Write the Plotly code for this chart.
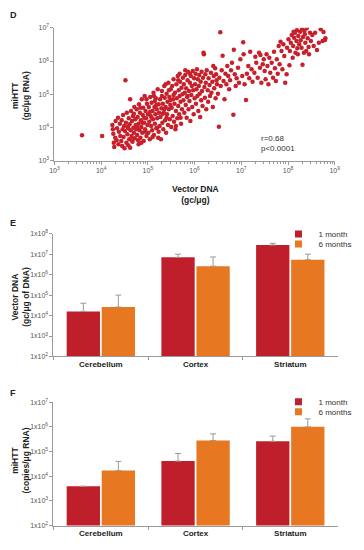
import plotly.graph_objects as go

# ---------------- Panel D data (log10 values) ----------------
vector_dna_log = [
    3.59, 4.02,
    4.24, 4.25, 4.26, 4.27, 4.28, 4.30, 4.31, 4.33, 4.34, 4.36, 4.37, 4.38, 4.40, 4.41, 4.43, 4.44, 4.45, 4.46, 4.47, 4.48, 4.49,
    4.50, 4.51, 4.52, 4.53, 4.54, 4.55, 4.56, 4.57, 4.58, 4.59, 4.60, 4.61, 4.62, 4.63, 4.64, 4.65, 4.66, 4.67, 4.68, 4.69, 4.70, 4.71, 4.72, 4.73, 4.74, 4.75, 4.62, 4.70, 4.58, 4.66,
    4.76, 4.77, 4.78, 4.79, 4.80, 4.81, 4.82, 4.83, 4.84, 4.85, 4.86, 4.87, 4.88, 4.89, 4.90, 4.91, 4.92, 4.93, 4.94, 4.95, 4.96, 4.97, 4.98, 4.99, 5.00, 4.80, 4.88, 4.92, 4.95, 4.84, 4.97, 4.78, 4.86,
    5.01, 5.02, 5.03, 5.04, 5.05, 5.06, 5.07, 5.08, 5.09, 5.10, 5.11, 5.12, 5.13, 5.14, 5.15, 5.16, 5.17, 5.18, 5.19, 5.20, 5.21, 5.22, 5.23, 5.24, 5.25, 5.05, 5.10, 5.15, 5.20, 5.08, 5.18, 5.13, 5.23,
    5.26, 5.27, 5.28, 5.29, 5.30, 5.31, 5.32, 5.33, 5.34, 5.35, 5.36, 5.37, 5.38, 5.39, 5.40, 5.41, 5.42, 5.43, 5.44, 5.45, 5.46, 5.47, 5.48, 5.49, 5.50, 5.30, 5.35, 5.40, 5.45, 5.38, 5.48, 5.32,
    5.51, 5.52, 5.53, 5.54, 5.55, 5.56, 5.57, 5.58, 5.59, 5.60, 5.61, 5.62, 5.63, 5.64, 5.65, 5.66, 5.67, 5.68, 5.69, 5.70, 5.71, 5.72, 5.73, 5.74, 5.75, 5.55, 5.65, 5.70, 5.60, 5.68,
    5.76, 5.77, 5.78, 5.79, 5.80, 5.81, 5.82, 5.83, 5.84, 5.85, 5.86, 5.87, 5.88, 5.89, 5.90, 5.91, 5.92, 5.93, 5.94, 5.95, 5.96, 5.97, 5.98, 5.99, 6.00, 5.80, 5.90, 5.85,
    6.01, 6.02, 6.03, 6.04, 6.05, 6.06, 6.07, 6.08, 6.09, 6.10, 6.11, 6.12, 6.13, 6.14, 6.15, 6.16, 6.17, 6.18, 6.19, 6.20, 6.21, 6.22, 6.23, 6.24, 6.25,
    6.26, 6.28, 6.29, 6.30, 6.32, 6.33, 6.35, 6.36, 6.38, 6.39, 6.41, 6.42, 6.44, 6.45, 6.47, 6.48, 6.50, 6.40, 6.46,
    6.52, 6.55, 6.53, 6.56, 6.58, 6.60, 6.62, 6.64, 6.66, 6.68, 6.70, 6.72, 6.74,
    6.76, 6.78, 6.80, 6.83, 6.84, 6.86, 6.88, 6.90, 6.93, 6.95, 6.98,
    7.02, 7.04, 7.05, 7.07, 7.10, 7.12, 7.15, 7.17, 7.19, 7.22, 7.24,
    7.28, 7.30, 7.32, 7.35, 7.38, 7.40, 7.41, 7.43, 7.46, 7.48, 7.50,
    7.52, 7.54, 7.56, 7.58, 7.60, 7.62, 7.65, 7.68, 7.70, 7.72, 7.74,
    7.76, 7.78, 7.80, 7.82, 7.84, 7.86, 7.88, 7.90, 7.92, 7.94, 7.97, 7.98,
    8.01, 8.03, 8.04, 8.06, 8.08, 8.10, 8.11, 8.13, 8.15, 8.16, 8.18, 8.19, 8.21, 8.22, 8.24, 8.12, 8.20,
    8.26, 8.27, 8.29, 8.30, 8.31, 8.32, 8.34, 8.36, 8.37, 8.39, 8.40, 8.42, 8.44, 8.45, 8.47, 8.49, 8.35,
    8.52, 8.55, 8.58, 8.62, 8.66, 8.70, 8.74, 8.76, 8.79, 8.80,
]
mihtt_log = [
    3.77, 3.75,
    4.08, 3.95, 3.82, 3.55, 3.42, 3.70, 4.20, 3.62, 3.98, 4.30, 3.50, 3.88, 4.12, 3.75, 3.60, 4.22, 3.45, 3.95, 4.38, 3.72, 4.05,
    3.38, 3.90, 5.42, 4.15, 3.55, 4.45, 3.80, 4.02, 3.47, 4.28, 3.65, 4.10, 4.85, 3.92, 4.50, 3.75, 4.20, 3.58, 4.35, 4.00, 3.85, 4.62, 3.68, 4.25, 4.08, 3.95, 3.40, 4.42, 3.98, 3.62,
    4.55, 3.78, 4.32, 3.62, 4.12, 4.70, 3.92, 4.45, 3.70, 4.22, 4.02, 4.85, 3.85, 4.38, 4.60, 3.60, 4.15, 4.95, 3.95, 4.50, 4.28, 3.75, 4.72, 4.08, 4.40, 3.50, 4.15, 4.30, 3.88, 4.60, 4.85, 4.00, 3.55,
    3.85, 4.62, 4.18, 3.65, 4.92, 4.35, 4.05, 4.75, 3.92, 4.50, 4.25, 5.05, 3.78, 4.62, 4.12, 4.40, 4.88, 3.98, 4.55, 4.28, 5.15, 3.70, 4.70, 4.45, 4.05, 4.48, 3.72, 4.80, 4.00, 4.30, 4.68, 4.95, 3.88,
    4.85, 4.32, 3.65, 4.58, 5.10, 4.15, 4.72, 3.95, 4.45, 5.25, 4.90, 4.22, 4.62, 3.85, 5.02, 4.40, 4.78, 4.08, 5.35, 4.55, 4.92, 4.25, 4.68, 5.15, 4.02, 4.95, 4.55, 4.30, 5.12, 5.30, 4.82, 4.42,
    4.60, 5.25, 4.35, 4.85, 5.45, 4.18, 4.72, 5.05, 3.95, 4.50, 5.30, 4.88, 4.28, 5.55, 4.65, 5.12, 4.40, 4.95, 5.38, 4.78, 4.12, 5.20, 4.55, 5.00, 5.50, 4.98, 5.42, 4.30, 4.05, 5.62,
    4.82, 5.30, 4.45, 5.05, 5.58, 4.68, 5.18, 4.30, 4.92, 5.42, 5.68, 4.55, 5.10, 4.80, 5.35, 4.20, 5.55, 4.98, 5.25, 4.62, 5.70, 5.12, 4.40, 5.48, 4.88, 5.72, 5.62, 4.95,
    5.30, 5.62, 4.72, 5.15, 5.75, 4.95, 5.45, 4.50, 5.25, 5.58, 5.02, 4.32, 5.38, 4.82, 5.68, 5.10, 4.65, 5.50, 6.25, 6.20, 5.22, 4.90, 5.60, 5.35, 4.55,
    5.72, 5.12, 4.78, 5.48, 5.28, 4.95, 5.65, 5.05, 5.38, 4.62, 5.55, 5.18, 5.78, 4.88, 5.42, 5.30, 5.02, 5.85, 5.60,
    4.03, 6.86, 5.50, 5.25, 5.72, 6.16, 5.40, 4.85, 5.62, 5.30, 5.85, 5.55, 5.15,
    5.42, 5.72, 5.95, 4.39, 6.34, 5.60, 5.25, 5.48, 5.80, 5.35, 6.05,
    5.55, 6.56, 6.20, 5.30, 4.83, 5.62, 5.85, 5.48, 6.28, 5.75, 5.38,
    5.65, 6.13, 5.95, 5.50, 6.25, 5.80, 6.18, 5.35, 5.90, 6.05, 5.70,
    5.45, 6.20, 5.85, 5.30, 6.10, 5.65, 5.95, 5.50, 6.28, 5.78, 5.40,
    6.05, 5.62, 6.45, 5.90, 6.58, 6.30, 5.75, 6.50, 6.15, 5.35, 5.60, 6.40,
    6.65, 5.87, 6.30, 6.55, 6.78, 6.10, 6.45, 6.70, 6.85, 6.25, 6.60, 6.92, 6.20, 6.75, 6.50, 6.88, 6.38,
    6.88, 6.62, 6.40, 6.95, 5.89, 6.72, 6.25, 6.80, 6.55, 6.30, 6.98, 6.68, 6.42, 6.20, 6.85, 6.60, 6.90,
    6.78, 6.45, 6.85, 6.33, 6.55, 6.95, 6.60, 6.87, 6.63, 6.68,
]

# ---------------- Panels E & F data ----------------
regions = ["Cerebellum", "Cortex", "Striatum"]
vector_1m = [1.6e4, 7.0e6, 2.8e7]
vector_1m_err = [4.0e4, 1.0e7, 3.4e7]      # top of error bar
vector_6m = [2.6e4, 2.6e6, 5.4e6]
vector_6m_err = [1.0e5, 7.3e6, 1.0e7]
mihtt_1m = [3.9e3, 4.1e4, 2.6e5]
mihtt_1m_err = [3.9e3, 8.3e4, 4.2e5]
mihtt_6m = [1.7e4, 2.8e5, 1.0e6]
mihtt_6m_err = [4.0e4, 5.2e5, 2.1e6]

RED = "#BF1F2A"
ORANGE = "#E87722"
PT = "#C8202B"
AX = "#9a9a9a"
FONT = "Arial, Liberation Sans, sans-serif"
W, H = 364, 550

def px_x(p):
    return p / W

def px_y(p):
    return 1 - p / H

fig = go.Figure()

# Scatter
fig.add_trace(go.Scatter(
    x=[10 ** v for v in vector_dna_log], y=[10 ** v for v in mihtt_log],
    mode="markers", marker=dict(color=PT, size=4.5, line=dict(width=0)),
    showlegend=False, xaxis="x", yaxis="y"))

def add_bars(xa, ya, v1, e1, v6, e6, legends):
    fig.add_trace(go.Bar(
        x=regions, y=v1, marker=dict(color=RED, line=dict(width=0)),
        error_y=dict(type="data", symmetric=False,
                     array=[t - v for t, v in zip(e1, v1)], arrayminus=[0] * 3,
                     color=AX, thickness=1, width=3),
        showlegend=False, xaxis=xa, yaxis=ya, name="1 month"))
    fig.add_trace(go.Bar(
        x=regions, y=v6, marker=dict(color=ORANGE, line=dict(width=0)),
        error_y=dict(type="data", symmetric=False,
                     array=[t - v for t, v in zip(e6, v6)], arrayminus=[0] * 3,
                     color=AX, thickness=1, width=3),
        showlegend=False, xaxis=xa, yaxis=ya, name="6 months"))
    for (nm, c), lg in zip((("1 month", RED), ("6 months", ORANGE)), legends):
        fig.add_trace(go.Scatter(
            x=[None], y=[None], mode="markers", name=nm,
            marker=dict(symbol="square", size=7, color=c),
            xaxis=xa, yaxis=ya, legend=lg))

add_bars("x2", "y2", vector_1m, vector_1m_err, vector_6m, vector_6m_err, ("legend", "legend2"))
add_bars("x3", "y3", mihtt_1m, mihtt_1m_err, mihtt_6m, mihtt_6m_err, ("legend3", "legend4"))

tickfont = dict(family=FONT, size=7, color="#555")
catfont = dict(family=FONT, size=8, color="#222", weight="bold")

def sup_labels(exps, prefix):
    return [f"{prefix}10<sup>{e}</sup>" for e in exps]

minor_vals = [k * 10 ** e for e in range(3, 9) for k in range(2, 10)]

def leg(ypx):
    return dict(x=px_x(282), y=px_y(ypx), xanchor="left", yanchor="middle",
                bgcolor="rgba(0,0,0,0)", font=dict(family=FONT, size=8, color="#333"),
                itemwidth=30, tracegroupgap=0, borderwidth=0)

fig.update_layout(
    width=W, height=H, margin=dict(l=0, r=0, t=0, b=0),
    paper_bgcolor="white", plot_bgcolor="white",
    font=dict(family=FONT, size=8, color="#333"),
    barmode="group", bargap=0.26, bargroupgap=0.05,
    xaxis=dict(type="log", domain=[px_x(51), px_x(340)], range=[3, 9], anchor="y",
               tickvals=[10 ** e for e in range(3, 10)], ticktext=sup_labels(range(3, 10), ""),
               ticks="outside", ticklen=3, tickcolor=AX, showline=True, linecolor=AX,
               showgrid=False, zeroline=False, tickfont=tickfont,
               minor=dict(tickvals=minor_vals, ticks="outside", ticklen=2, tickcolor=AX, showgrid=False)),
    yaxis=dict(type="log", domain=[px_y(159), px_y(24)], range=[3, 7], anchor="x",
               tickvals=[10 ** e for e in range(3, 8)], ticktext=sup_labels(range(3, 8), ""),
               ticks="outside", ticklen=3, tickcolor=AX, showline=True, linecolor=AX,
               showgrid=False, zeroline=False, tickfont=tickfont),
    xaxis2=dict(type="category", domain=[px_x(50), px_x(343)], anchor="y2",
                ticks="outside", tickson="boundaries", ticklen=3, tickcolor=AX,
                showline=True, linecolor=AX, showgrid=False, tickfont=catfont),
    yaxis2=dict(type="log", domain=[px_y(357), px_y(232.7)], range=[2, 8], anchor="x2",
                tickvals=[10 ** e for e in range(2, 9)], ticktext=sup_labels(range(2, 9), "1x"),
                ticks="outside", ticklen=3, tickcolor=AX, showline=True, linecolor=AX,
                showgrid=False, zeroline=False, tickfont=tickfont),
    xaxis3=dict(type="category", domain=[px_x(50), px_x(343)], anchor="y3",
                ticks="outside", tickson="boundaries", ticklen=3, tickcolor=AX,
                showline=True, linecolor=AX, showgrid=False, tickfont=catfont),
    yaxis3=dict(type="log", domain=[px_y(528.3), px_y(403.3)], range=[2, 7], anchor="x3",
                tickvals=[10 ** e for e in range(2, 8)], ticktext=sup_labels(range(2, 8), "1x"),
                ticks="outside", ticklen=3, tickcolor=AX, showline=True, linecolor=AX,
                showgrid=False, zeroline=False, tickfont=tickfont),
    legend=leg(233), legend2=leg(243), legend3=leg(403), legend4=leg(413),
)

ann = []
def label(text, x, y, size=8.5, bold=True, angle=0, xanchor="center", yanchor="middle", color="#222"):
    ann.append(dict(text=f"<b>{text}</b>" if bold else text, x=px_x(x), y=px_y(y),
                    xref="paper", yref="paper", showarrow=False, textangle=angle,
                    xanchor=xanchor, yanchor=yanchor, align="center",
                    font=dict(family=FONT, size=size, color=color)))

label("D", 3, 11, size=9, xanchor="left")
label("E", 3, 222, size=9, xanchor="left")
label("F", 3, 394, size=9, xanchor="left")
label("Vector DNA<br>(gc/μg)", 196, 193)
label("miHTT<br>(gc/μg RNA)", 16, 93, angle=-90)
label("Vector DNA<br>(gc/μg of DNA)", 16, 297, angle=-90)
label("miHTT<br>(copies/μg RNA)", 16, 463, angle=-90)
ann.append(dict(text="r=0.68<br>p<0.0001", x=px_x(262), y=px_y(141), xref="paper", yref="paper",
                showarrow=False, xanchor="left", yanchor="middle", align="left",
                font=dict(family=FONT, size=8, color="#333")))
fig.update_layout(annotations=ann)

fig.write_html("out.html", config={"displayModeBar": False},
               post_script="document.body.style.margin='0px';")
